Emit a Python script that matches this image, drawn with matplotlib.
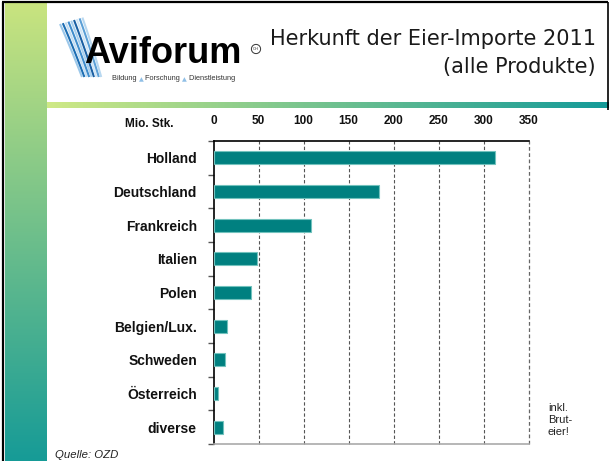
import numpy as np
import matplotlib
matplotlib.use("Agg")
import matplotlib.pyplot as plt
from matplotlib import font_manager
from matplotlib.patches import Circle

# ---------------- data ----------------
countries = ["Holland", "Deutschland", "Frankreich", "Italien", "Polen",
             "Belgien/Lux.", "Schweden", "Österreich", "diverse"]
imports_mio = [313, 184, 108, 48, 42, 15, 13, 5.5, 10]
x_ticks = [0, 50, 100, 150, 200, 250, 300, 350]
unit_label = "Mio. Stk."
title_line1 = "Herkunft der Eier-Importe 2011"
title_line2 = "(alle Produkte)"
source_note = "Quelle: OZD"
side_note = "inkl.\nBrut-\neier!"

W, H = 609, 461
fig = plt.figure(figsize=(W / 100, H / 100), dpi=100)
fig.patch.set_facecolor("white")

def has_font(name):
    try:
        font_manager.findfont(font_manager.FontProperties(family=name),
                              fallback_to_default=False)
        return True
    except Exception:
        return False

SANS = "Liberation Sans"
NARROW = "Liberation Sans Narrow" if has_font("Liberation Sans Narrow") else None

# ---------------- background / decoration axes (pixel coords) ----------------
bg = fig.add_axes([0, 0, 1, 1])
bg.set_xlim(0, W)
bg.set_ylim(H, 0)
bg.axis("off")

def hexrgb(c):
    c = c.lstrip("#")
    return np.array([int(c[i:i + 2], 16) / 255 for i in (0, 2, 4)])

# vertical strip gradient
c_top, c_bot = hexrgb("#c9e47f"), hexrgb("#169b97")
t = np.linspace(0, 1, 256)[:, None, None]
strip = c_top * (1 - t) + c_bot * t
bg.imshow(strip, extent=[5, 47, H, 4], aspect="auto", interpolation="bilinear", zorder=1)

# header gradient line
c_l, c_r = hexrgb("#cfe985"), hexrgb("#139a99")
t2 = np.linspace(0, 1, 512)[None, :, None]
hline = c_l * (1 - t2) + c_r * t2
bg.imshow(hline, extent=[47, W, 108.5, 102.5], aspect="auto", interpolation="bilinear", zorder=1)
bg.set_xlim(0, W)
bg.set_ylim(H, 0)

# frame lines
bg.plot([2, 608], [2.5, 2.5], color="black", lw=1.6, zorder=3, solid_capstyle="butt")
bg.plot([3, 3], [2, H], color="black", lw=1.6, zorder=3, solid_capstyle="butt")
bg.plot([607.5, 607.5], [2, 110], color="black", lw=1.2, zorder=3, solid_capstyle="butt")

# logo feathers
feather_cols = ["#9cc8ea", "#1c6db3", "#c4def3", "#3f8ccc", "#a9d0ee",
                "#1a5fa3", "#d2e6f6", "#5b9fd6", "#b8d8f0"]
for i, col in enumerate(feather_cols):
    x0, y0 = 60 + i * 2.8, 24 - i * 0.8
    x1, y1 = 82 + i * 2.4, 77
    s = np.linspace(0, 1, 40)
    xm, ym = x0 + 10, 46
    xs = (1 - s) ** 2 * x0 + 2 * (1 - s) * s * xm + s ** 2 * x1
    ys = (1 - s) ** 2 * y0 + 2 * (1 - s) * s * ym + s ** 2 * y1
    bg.plot(xs, ys, color=col, lw=1.5, zorder=2, solid_capstyle="butt")

if NARROW:
    bg.text(86, 62.5, "Aviforum", family=NARROW, weight="bold", fontsize=29.5,
            ha="left", va="baseline", color="black", zorder=4)
else:
    bg.text(84, 63, "Aviforum", family=SANS, weight="bold", fontsize=26,
            ha="left", va="baseline", color="black", zorder=4)

# CH mark
bg.add_patch(Circle((256, 49), 4.6, facecolor="white", edgecolor="#333333", lw=0.7, zorder=4))
bg.text(256, 49.3, "CH", fontsize=3, family=SANS, ha="center", va="center", color="#333333", zorder=5)

# tagline with blue triangles
parts = [("Bildung ", "#333333"), ("\u25b2", "#8fbfe6"), (" Forschung ", "#333333"),
         ("\u25b2", "#8fbfe6"), (" Dienstleistung", "#333333")]
prev = bg.text(112, 80, parts[0][0], fontsize=5.3, family=[SANS, "DejaVu Sans"],
               color=parts[0][1], ha="left", va="baseline", zorder=4)
for txt, col in parts[1:]:
    fs = 4.5 if txt == "\u25b2" else 5.3
    prev = bg.annotate(txt, xy=(1, 0), xycoords=prev, fontsize=fs,
                       family=["DejaVu Sans"] if txt == "\u25b2" else [SANS, "DejaVu Sans"],
                       color=col, ha="left", va="bottom", zorder=4)

# title
bg.text(596, 45, title_line1, family="DejaVu Sans", fontsize=15, ha="right",
        va="baseline", color="#1a1a1a", zorder=4)
bg.text(596, 73, title_line2, family="DejaVu Sans", fontsize=15, ha="right",
        va="baseline", color="#1a1a1a", zorder=4)

# notes
bg.text(55, 455, source_note, family=SANS, style="italic", fontsize=8.2,
        ha="left", va="center", color="#222222", zorder=4)
bg.text(548, 420, side_note, family=SANS, fontsize=8, ha="left", va="center",
        color="#222222", linespacing=1.25, zorder=4)
bg.text(149, 124, unit_label, family=SANS, weight="bold", fontsize=8.5,
        ha="center", va="center", color="#111111", zorder=4)

# ---------------- chart axes ----------------
x0_px, x350_px = 213.5, 528.7
y_top, y_bot = 141, 444
ax = fig.add_axes([x0_px / W, (H - y_bot) / H, (x350_px - x0_px) / W, (y_bot - y_top) / H])
ax.set_facecolor("none")

ypos = np.arange(len(countries))
ax.barh(ypos, imports_mio, height=0.38, color="#008080", edgecolor="#72c2bd",
        linewidth=0.8, zorder=3)
ax.set_ylim(len(countries) - 0.5, -0.5)
ax.set_xlim(0, 350)

ax.xaxis.tick_top()
ax.set_xticks(x_ticks)
ax.set_xticklabels([str(v) for v in x_ticks], fontsize=8.5, weight="bold", family=SANS)
ax.tick_params(axis="x", length=0, pad=10, colors="#111111")

ax.set_yticks(ypos)
ax.set_yticklabels(countries, fontsize=10, weight="bold", family=SANS)
ax.tick_params(axis="y", length=0, pad=12, colors="#111111")
ax.set_yticks(np.arange(len(countries) + 1) - 0.5, minor=True)
ax.tick_params(axis="y", which="minor", length=4.5, width=1, color="#555555", direction="out")

for v in x_ticks[1:]:
    ax.axvline(v, color="#666666" if v == 350 else "#555555", lw=0.9 if v == 350 else 0.8,
               ls=(0, (3, 2)), zorder=1, clip_on=False)

ax.spines["top"].set_color("black")
ax.spines["top"].set_linewidth(1.2)
ax.spines["left"].set_color("black")
ax.spines["left"].set_linewidth(1.2)
ax.spines["right"].set_visible(False)
ax.spines["bottom"].set_color("#aaaaaa")
ax.spines["bottom"].set_linewidth(1.2)

fig.savefig("out.png", dpi=100, facecolor="white")
